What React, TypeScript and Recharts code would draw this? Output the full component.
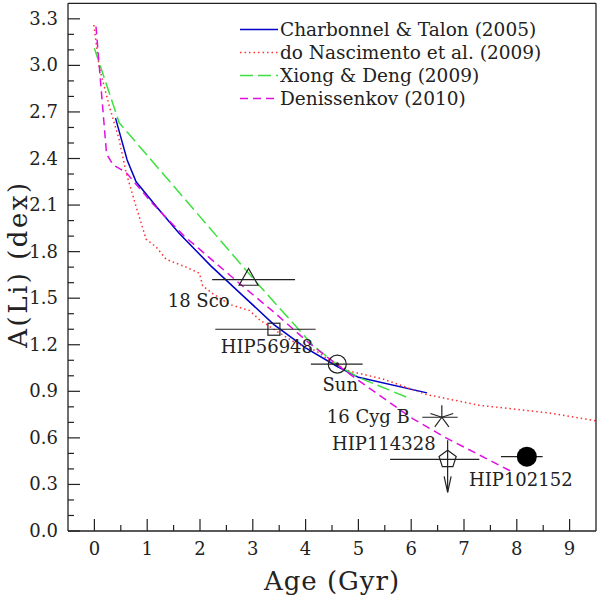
import {
  ComposedChart,
  Line,
  Scatter,
  XAxis,
  YAxis,
  ErrorBar,
  Legend
} from 'recharts'

const FONT = '"DejaVu Serif", serif'

// Charbonnel & Talon (2005)
const ctAge = [0.4, 0.62, 0.79, 1.2, 1.6, 2.2, 2.8, 3.4, 4.0, 4.6, 5.0, 6.3]
const ctLi = [2.66, 2.39, 2.25, 2.08, 1.92, 1.71, 1.52, 1.33, 1.18, 1.06, 0.99, 0.89]

// do Nascimento et al. (2009)
const dnAge = [-0.01, 0.09, 0.28, 0.47, 0.6, 0.79, 0.98, 1.17, 1.36, 1.74, 1.99, 2.05, 2.24, 2.56, 2.94, 3.13, 3.44, 3.82, 4.2, 4.45, 4.83, 5.46, 6.28, 7.29, 8.62, 9.49]
const dnLi = [3.26, 2.99, 2.74, 2.52, 2.31, 2.09, 1.88, 1.83, 1.75, 1.7, 1.66, 1.58, 1.53, 1.46, 1.42, 1.36, 1.29, 1.21, 1.16, 1.1, 1.03, 0.98, 0.88, 0.81, 0.76, 0.71]

// Xiong & Deng (2009)
const xdAge = [0.0, 0.47, 3.1, 4.13, 4.6, 5.0, 6.0]
const xdLi = [3.11, 2.63, 1.59, 1.2, 1.07, 0.99, 0.85]

// Denissenkov (2010)
const deAge = [0.03, 0.23, 0.35, 0.6, 1.1, 1.7, 2.8, 3.4, 4.07, 4.6, 5.0, 6.0, 6.66, 7.92]
const deLi = [3.25, 2.43, 2.36, 2.31, 2.11, 1.9, 1.58, 1.41, 1.21, 1.07, 0.97, 0.73, 0.6, 0.38]

// estrelas observadas
const starNames = ['18 Sco', 'HIP56948', 'Sun', '16 Cyg B', 'HIP114328', 'HIP102152']
const starAge = [2.92, 3.4, 4.6, 6.58, 6.69, 8.19]
const starLi = [1.62, 1.3, 1.075, 0.733, 0.462, 0.479]
const starAgeErr = [[0.69, 0.88], [1.11, 0.79], [0.5, 0.48], [0.37, 0.3], [1.09, 0.6], [0.49, 0.3]]

// ticks
const xMajor = [0, 1, 2, 3, 4, 5, 6, 7, 8, 9]
const xMinor = [0.5, 1.5, 2.5, 3.5, 4.5, 5.5, 6.5, 7.5, 8.5]
const yMajor = [0, 0.3, 0.6, 0.9, 1.2, 1.5, 1.8, 2.1, 2.4, 2.7, 3.0, 3.3]
const yMinor = [0.1, 0.2, 0.4, 0.5, 0.7, 0.8, 1.0, 1.1, 1.3, 1.4, 1.6, 1.7, 1.9, 2.0, 2.2, 2.3, 2.5, 2.6, 2.8, 2.9, 3.1, 3.2]

const toPoints = (ages: number[], li: number[]) => ages.map((x, i) => ({ x, y: li[i] }))

const models = [
  { name: 'Charbonnel & Talon (2005)', data: toPoints(ctAge, ctLi), color: '#0000c8', dash: undefined },
  { name: 'do Nascimento et al. (2009)', data: toPoints(dnAge, dnLi), color: '#ff3030', dash: '1.5 3' },
  { name: 'Xiong & Deng (2009)', data: toPoints(xdAge, xdLi), color: '#3ee03e', dash: '13 5' },
  { name: 'Denissenkov (2010)', data: toPoints(deAge, deLi), color: '#e010e0', dash: '8 5' }
]

const stars = starNames.map((name, i) => ({ name, x: starAge[i], y: starLi[i], ageErr: starAgeErr[i] }))

const xTicks = [...xMajor, ...xMinor].sort((a, b) => a - b)
const yTicks = [...yMajor, ...yMinor].sort((a, b) => a - b)

const INK = '#222'

const BottomTick = ({ x, y, payload }: any) => {
  const major = xMajor.includes(payload.value)
  return (
    <g>
      <line x1={x} x2={x} y1={y} y2={y - (major ? 12 : 6)} stroke={INK} strokeWidth={1.2} />
      {major && (
        <text x={x} y={y + 24} textAnchor="middle" fontFamily={FONT} fontSize={18} fill={INK}>
          {payload.value}
        </text>
      )}
    </g>
  )
}

const TopTick = ({ x, y, payload }: any) => {
  const major = xMajor.includes(payload.value)
  return <line x1={x} x2={x} y1={y} y2={y + (major ? 12 : 6)} stroke={INK} strokeWidth={1.2} />
}

const LeftTick = ({ x, y, payload }: any) => {
  const major = yMajor.includes(payload.value)
  return (
    <g>
      <line x1={x} x2={x + (major ? 12 : 6)} y1={y} y2={y} stroke={INK} strokeWidth={1.2} />
      {major && (
        <text x={x - 10} y={y + 6} textAnchor="end" fontFamily={FONT} fontSize={18} fill={INK}>
          {payload.value.toFixed(1)}
        </text>
      )}
    </g>
  )
}

const RightTick = ({ x, y, payload }: any) => {
  const major = yMajor.includes(payload.value)
  return <line x1={x} x2={x - (major ? 12 : 6)} y1={y} y2={y} stroke={INK} strokeWidth={1.2} />
}

// rótulos das estrelas
const labelPos: Record<string, { dx: number; dy: number; anchor: string }> = {
  '18 Sco': { dx: -19, dy: 27, anchor: 'end' },
  HIP56948: { dx: -7, dy: 24, anchor: 'middle' },
  Sun: { dx: 3, dy: 27, anchor: 'middle' },
  '16 Cyg B': { dx: -32, dy: 6, anchor: 'end' },
  HIP114328: { dx: -12, dy: -9, anchor: 'end' },
  HIP102152: { dx: -6, dy: 29, anchor: 'middle' }
}

function pentagon(cx: number, cy: number, r: number) {
  const pts = [0, 1, 2, 3, 4].map((k) => {
    const a = -Math.PI / 2 + (k * 2 * Math.PI) / 5
    return `${cx + r * Math.cos(a)},${cy + r * Math.sin(a)}`
  })
  return pts.join(' ')
}

function asterisk(cx: number, cy: number, r: number) {
  return [0, 1, 2, 3, 4].map((k) => {
    const a = -Math.PI / 2 + (k * 2 * Math.PI) / 5
    return `M${cx},${cy}L${cx + r * Math.cos(a)},${cy + r * Math.sin(a)}`
  }).join('')
}

const StarShape = (props: any) => {
  const { cx, cy, payload } = props
  const name = payload.name
  const lp = labelPos[name]
  let marker = null
  if (name === '18 Sco') {
    marker = <polygon points={`${cx},${cy - 11} ${cx - 9.5},${cy + 5.7} ${cx + 9.5},${cy + 5.7}`} fill="none" stroke={INK} strokeWidth={1.2} />
  } else if (name === 'HIP56948') {
    marker = <rect x={cx - 6} y={cy - 6} width={12} height={12} fill="none" stroke={INK} strokeWidth={1.2} />
  } else if (name === 'Sun') {
    marker = (
      <g>
        <circle cx={cx} cy={cy} r={9} fill="none" stroke={INK} strokeWidth={1.2} />
        <circle cx={cx} cy={cy} r={1.8} fill={INK} />
      </g>
    )
  } else if (name === '16 Cyg B') {
    marker = <path d={asterisk(cx, cy, 12)} stroke={INK} strokeWidth={1.2} fill="none" />
  } else if (name === 'HIP114328') {
    marker = (
      <g stroke={INK} strokeWidth={1.2} fill="none">
        <polygon points={pentagon(cx, cy, 9)} />
        <line x1={cx} x2={cx} y1={cy - 19} y2={cy + 33} />
        <path d={`M${cx - 3.5},${cy + 17}L${cx},${cy + 33}L${cx + 3.5},${cy + 17}`} />
      </g>
    )
  } else {
    marker = <circle cx={cx} cy={cy} r={10} fill="#000" />
  }
  return (
    <g>
      {marker}
      <text x={cx + lp.dx} y={cy + lp.dy} textAnchor={lp.anchor as any} fontFamily={FONT} fontSize={18} fill={INK}>
        {name}
      </text>
    </g>
  )
}

const ModelLegend = () => (
  <div style={{ fontFamily: FONT, fontSize: 18.5, color: INK }}>
    {models.map((m) => (
      <div key={m.name} style={{ height: 23, lineHeight: '23px', whiteSpace: 'nowrap' }}>
        <svg width={40} height={23} style={{ verticalAlign: 'top' }}>
          <line x1={0} x2={38} y1={11.5} y2={11.5} stroke={m.color} strokeWidth={1.5} strokeDasharray={m.dash} />
        </svg>
        <span>{m.name}</span>
      </div>
    ))}
  </div>
)

export default function App() {
  return (
    <div style={{ position: 'absolute', left: 0, top: 0, background: '#fff' }}>
      <ComposedChart width={600} height={598} margin={{ top: 2, right: 0, bottom: 0, left: 0 }}>
        <XAxis
          xAxisId="bottom"
          type="number"
          dataKey="x"
          domain={[-0.5, 9.5]}
          ticks={xTicks}
          interval={0}
          height={67}
          tickSize={0}
          tickMargin={0}
          tickLine={false}
          tick={<BottomTick />}
          axisLine={{ stroke: INK, strokeWidth: 1.3 }}
        />
        <XAxis
          xAxisId="top"
          orientation="top"
          type="number"
          dataKey="x"
          domain={[-0.5, 9.5]}
          ticks={xTicks}
          interval={0}
          height={1.3}
          tickSize={0}
          tickMargin={0}
          tickLine={false}
          tick={<TopTick />}
          axisLine={{ stroke: INK, strokeWidth: 1.3 }}
        />
        <YAxis
          yAxisId="left"
          type="number"
          dataKey="y"
          domain={[0, 3.4]}
          ticks={yTicks}
          interval={0}
          width={68}
          tickSize={0}
          tickMargin={0}
          tickLine={false}
          tick={<LeftTick />}
          axisLine={{ stroke: INK, strokeWidth: 1.3 }}
        />
        <YAxis
          yAxisId="right"
          orientation="right"
          type="number"
          dataKey="y"
          domain={[0, 3.4]}
          ticks={yTicks}
          interval={0}
          width={4}
          tickSize={0}
          tickMargin={0}
          tickLine={false}
          tick={<RightTick />}
          axisLine={{ stroke: INK, strokeWidth: 1.3 }}
        />
        {models.map((m) => (
          <Line
            key={m.name}
            xAxisId="bottom"
            yAxisId="left"
            data={m.data}
            dataKey="y"
            name={m.name}
            type="linear"
            stroke={m.color}
            strokeWidth={1.5}
            strokeDasharray={m.dash}
            dot={false}
            activeDot={false}
            isAnimationActive={false}
          />
        ))}
        <Scatter
          xAxisId="bottom"
          yAxisId="left"
          data={stars}
          dataKey="y"
          shape={<StarShape />}
          isAnimationActive={false}
        >
          <ErrorBar dataKey="ageErr" direction="x" width={0} stroke={INK} strokeWidth={1.2} isAnimationActive={false} />
        </Scatter>
        <Legend
          layout="vertical"
          align="center"
          verticalAlign="middle"
          wrapperStyle={{ left: 240, top: 18, width: 350 }}
          content={<ModelLegend />}
        />
        <text x={332} y={590} textAnchor="middle" fontFamily={FONT} fontSize={26} letterSpacing={1} fill={INK}>
          Age (Gyr)
        </text>
        <text transform="translate(27,264) rotate(-90)" textAnchor="middle" fontFamily={FONT} fontSize={26} letterSpacing={2.5} fill={INK}>
          A(Li) (dex)
        </text>
      </ComposedChart>
    </div>
  )
}
